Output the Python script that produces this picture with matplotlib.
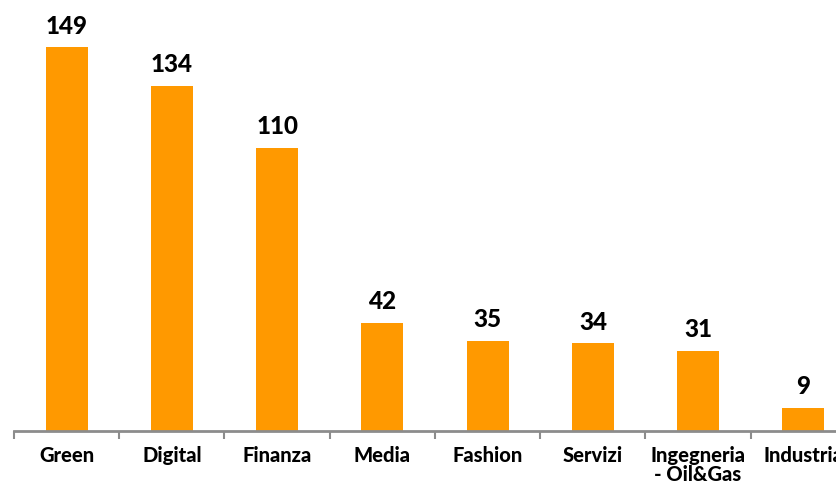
import matplotlib.pyplot as plt
import numpy as np

categories = ["Green", "Digital", "Finanza", "Media", "Fashion", "Servizi",
              "Ingegneria\n- Oil&Gas", "Industria"]
values = [149, 134, 110, 42, 35, 34, 31, 9]

bar_color = "#FF9900"
axis_color = "#8C8C8C"
font = "Lato"

fig = plt.figure(figsize=(8.37, 4.86), dpi=100)
# axes deliberately extends past the right edge, like the original
ax = fig.add_axes([14 / 837, 55 / 486, 842 / 837, 412 / 486])

x = np.arange(len(categories))
ax.bar(x, values, width=0.4, color=bar_color)

for xi, v in zip(x, values):
    ax.annotate(str(v), (xi, v), xytext=(0, 7), textcoords="offset points",
                ha="center", va="bottom", fontsize=17.5, fontweight="black",
                family=font, color="black")

ax.set_xlim(-0.5, len(categories) - 0.5)
ax.set_ylim(0, 160)

ax.set_xticks(x)
ax.set_xticklabels(categories, fontsize=14.5, fontweight="black", family=font,
                   va="top", linespacing=1.0)
ax.tick_params(axis="x", which="major", length=0, pad=11)
ax.set_xticks(np.arange(len(categories) + 1) - 0.5, minor=True)
ax.tick_params(axis="x", which="minor", length=6, width=1.5, color=axis_color,
               direction="out")

ax.set_yticks([])
for s in ["top", "right", "left"]:
    ax.spines[s].set_visible(False)
ax.spines["bottom"].set_color(axis_color)
ax.spines["bottom"].set_linewidth(2)

fig.savefig("out.png", dpi=100)
